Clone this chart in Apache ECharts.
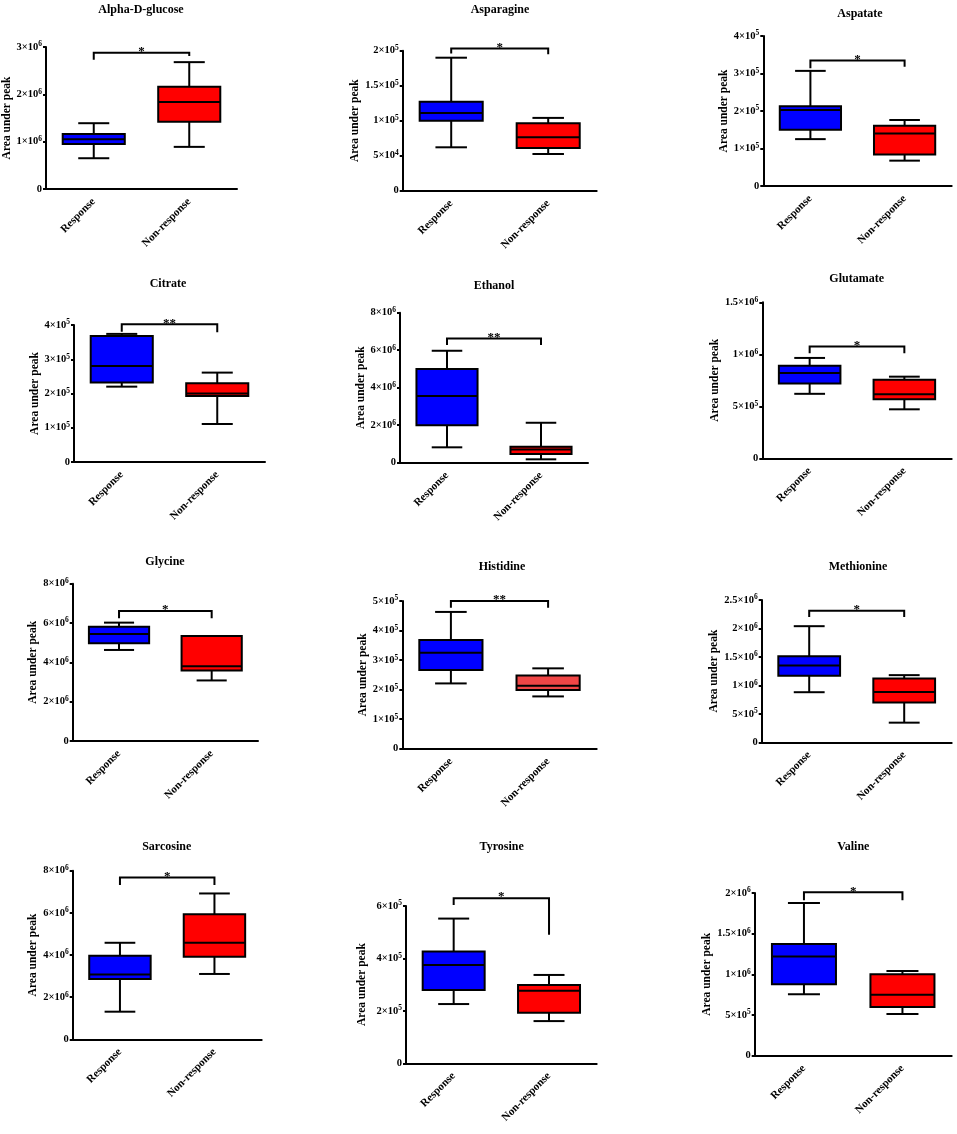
<!DOCTYPE html>
<html>
<head>
<meta charset="utf-8">
<title>Metabolites box plots</title>
<script src="https://cdn.jsdelivr.net/npm/echarts@6/dist/echarts.min.js"></script>
<style>
  html, body { margin: 0; padding: 0; background: #fff; }
  #main { width: 957px; height: 1134px; }
</style>
</head>
<body>
<div id="main"></div>
<script>
var groups = ['Response', 'Non-response'];
var metabolites = ['Alpha-D-glucose', 'Asparagine', 'Aspatate', 'Citrate', 'Ethanol', 'Glutamate',
  'Glycine', 'Histidine', 'Methionine', 'Sarcosine', 'Tyrosine', 'Valine'];

// [min, Q1, median, Q3, max]
var responseBox = [
  [0.65e6, 0.95e6, 1.05e6, 1.16e6, 1.39e6],
  [0.62e5, 1.0e5, 1.11e5, 1.27e5, 1.9e5],
  [1.25e5, 1.5e5, 2.03e5, 2.13e5, 3.07e5],
  [2.2e5, 2.32e5, 2.8e5, 3.68e5, 3.74e5],
  [0.82e6, 2.0e6, 3.56e6, 5.0e6, 5.97e6],
  [0.62e6, 0.72e6, 0.82e6, 0.89e6, 0.965e6],
  [4.63e6, 4.97e6, 5.44e6, 5.81e6, 6.02e6],
  [2.21e5, 2.66e5, 3.25e5, 3.68e5, 4.63e5],
  [0.88e6, 1.17e6, 1.35e6, 1.51e6, 2.04e6],
  [1.31e6, 2.86e6, 3.08e6, 3.97e6, 4.58e6],
  [2.26e5, 2.8e5, 3.75e5, 4.26e5, 5.52e5],
  [0.754e6, 0.877e6, 1.22e6, 1.373e6, 1.877e6]
];
var nonResponseBox = [
  [0.89e6, 1.42e6, 1.84e6, 2.16e6, 2.68e6],
  [0.524e5, 0.61e5, 0.762e5, 0.962e5, 1.04e5],
  [0.676e5, 0.84e5, 1.4e5, 1.61e5, 1.76e5],
  [1.11e5, 1.93e5, 2.0e5, 2.3e5, 2.61e5],
  [0.18e6, 0.46e6, 0.71e6, 0.85e6, 2.13e6],
  [0.471e6, 0.567e6, 0.615e6, 0.756e6, 0.785e6],
  [3.08e6, 3.58e6, 3.8e6, 5.34e6, 5.34e6],
  [1.77e5, 1.99e5, 2.13e5, 2.48e5, 2.72e5],
  [0.345e6, 0.7e6, 0.884e6, 1.12e6, 1.18e6],
  [3.1e6, 3.92e6, 4.58e6, 5.93e6, 6.92e6],
  [1.61e5, 1.93e5, 2.77e5, 2.99e5, 3.37e5],
  [0.512e6, 0.598e6, 0.75e6, 1.0e6, 1.04e6]
];

var significance = ['*', '*', '*', '**', '**', '*', '*', '**', '*', '*', '*', '*'];
// bracket: [bar height, left leg end, right leg end]
var bracket = [
  [2.88e6, 2.73e6, 2.81e6],
  [2.03e5, 1.96e5, 1.95e5],
  [3.35e5, 3.14e5, 3.18e5],
  [4.02e5, 3.8e5, 3.79e5],
  [6.63e6, 6.28e6, 6.28e6],
  [1.074e6, 1.01e6, 1.01e6],
  [6.61e6, 6.24e6, 6.24e6],
  [5.0e5, 4.77e5, 4.77e5],
  [2.31e6, 2.2e6, 2.2e6],
  [7.68e6, 7.32e6, 7.32e6],
  [6.3e5, 6.04e5, 4.9e5],
  [2.01e6, 1.91e6, 1.91e6]
];

var yMax = [3e6, 2e5, 4e5, 4e5, 8e6, 1.5e6, 8e6, 5e5, 2.5e6, 8e6, 6e5, 2e6];
var yStep = [1e6, 5e4, 1e5, 1e5, 2e6, 5e5, 2e6, 1e5, 5e5, 2e6, 2e5, 5e5];

// panel layout in px: [left, top, right, zeroLine, titleX, titleY, nameGap]
var layout = [
  [46, 47, 237, 189, 141, 11, 29],
  [402.7, 50.7, 596.7, 190.7, 500, 10.7, 31],
  [763.3, 36, 951.7, 186, 860, 15, 31],
  [74, 325, 265, 462, 168, 285, 33],
  [400, 312.7, 588, 462.7, 494, 286.7, 32],
  [762.3, 302.3, 951.7, 458.3, 856.7, 280, 39],
  [72.7, 583.7, 258, 741, 165, 563.3, 32],
  [402.3, 601, 596.7, 748.7, 502, 568.3, 33],
  [761.7, 600, 951.7, 742.3, 858, 568.3, 39],
  [72.7, 870.7, 261.7, 1039.3, 166.7, 848.3, 32],
  [406, 906, 596.7, 1063.3, 501.7, 848.3, 38],
  [754.7, 893, 951.7, 1055.7, 853.3, 848.3, 35]
];

var FONT = '"Liberation Serif", "Times New Roman", serif';
var responseColor = '#0000ff';
var nonResponseColor = ['#ff0000', '#ff0000', '#ff0000', '#ff0000', '#ff0000', '#ff0000',
  '#ff0000', '#f04646', '#ff0000', '#ff0000', '#ff0000', '#ff0000'];

function sciLabel(v) {
  if (v === 0) return '{b|0}';
  var e = Math.floor(Math.log10(v) + 1e-9);
  var m = Math.round(v / Math.pow(10, e) * 10) / 10;
  return '{b|' + m + '×10}{sup|' + e + '}';
}

function boxRenderer(i) {
  return function (params, api) {
    var cat = api.value(0);
    var band = api.size([1, 0])[0];
    var half = band * 0.325;
    var cap = half * 0.5;
    var pMin = api.coord([cat, api.value(1)]);
    var pQ1 = api.coord([cat, api.value(2)]);
    var pMed = api.coord([cat, api.value(3)]);
    var pQ3 = api.coord([cat, api.value(4)]);
    var pMax = api.coord([cat, api.value(5)]);
    var x = pMin[0];
    var line = { stroke: '#000', lineWidth: 2 };
    return {
      type: 'group',
      children: [
        { type: 'line', shape: { x1: x, y1: pMin[1], x2: x, y2: pQ1[1] }, style: line },
        { type: 'line', shape: { x1: x, y1: pQ3[1], x2: x, y2: pMax[1] }, style: line },
        { type: 'line', shape: { x1: x - cap, y1: pMin[1], x2: x + cap, y2: pMin[1] }, style: line },
        { type: 'line', shape: { x1: x - cap, y1: pMax[1], x2: x + cap, y2: pMax[1] }, style: line },
        {
          type: 'rect',
          shape: { x: x - half, y: pQ3[1], width: half * 2, height: pQ1[1] - pQ3[1] },
          style: { fill: cat === 0 ? responseColor : nonResponseColor[i], stroke: '#000', lineWidth: 2 }
        },
        { type: 'line', shape: { x1: x - half, y1: pMed[1], x2: x + half, y2: pMed[1] }, style: line }
      ]
    };
  };
}

function bracketRenderer(i) {
  return function (params, api) {
    var top0 = api.coord([0, api.value(1)]);
    var top1 = api.coord([1, api.value(1)]);
    var left = api.coord([0, api.value(2)]);
    var right = api.coord([1, api.value(3)]);
    return {
      type: 'group',
      children: [
        {
          type: 'polyline',
          shape: { points: [left, top0, top1, right] },
          style: { stroke: '#000', lineWidth: 2, fill: null }
        },
        {
          type: 'text',
          x: (top0[0] + top1[0]) / 2,
          y: top0[1] - 1,
          style: {
            text: significance[i], align: 'center', verticalAlign: 'middle',
            fontSize: 13, fontWeight: 'bold', fontFamily: FONT, fill: '#000'
          }
        }
      ]
    };
  };
}

var titles = [], grids = [], xAxes = [], yAxes = [], series = [];

for (var i = 0; i < metabolites.length; i++) {
  var L = layout[i];
  titles.push({
    text: metabolites[i],
    left: L[4], top: L[5] - 7,
    textAlign: 'center', padding: 0,
    textStyle: { fontSize: 12, fontWeight: 'bold', fontFamily: FONT, color: '#000' }
  });
  grids.push({
    left: L[0], top: L[1], width: L[2] - L[0], height: L[3] - L[1],
    containLabel: false, outerBoundsMode: 'none'
  });
  xAxes.push({
    type: 'category', gridIndex: i, data: groups,
    axisLine: { lineStyle: { color: '#000', width: 2 } },
    axisTick: { alignWithLabel: true, length: 4, lineStyle: { color: '#000', width: 2 } },
    axisLabel: {
      rotate: 45, interval: 0, margin: 11, color: '#000',
      fontSize: 11, fontWeight: 'bold', fontFamily: FONT
    },
    splitLine: { show: false }
  });
  yAxes.push({
    type: 'value', gridIndex: i, min: 0, max: yMax[i], interval: yStep[i],
    name: 'Area under peak', nameLocation: 'middle', nameRotate: 90, nameGap: L[6],
    nameTextStyle: { fontSize: 11.5, fontWeight: 'bold', fontFamily: FONT, color: '#000' },
    axisLine: { show: true, lineStyle: { color: '#000', width: 2 } },
    axisTick: { show: true, length: 3, lineStyle: { color: '#000', width: 2 } },
    splitLine: { show: false },
    axisLabel: {
      margin: 4,
      formatter: sciLabel,
      rich: {
        b: { fontSize: 10.5, fontWeight: 'bold', fontFamily: FONT, color: '#000', lineHeight: 13 },
        sup: { fontSize: 7.5, fontWeight: 'bold', fontFamily: FONT, color: '#000', lineHeight: 8, verticalAlign: 'top' }
      }
    }
  });
  series.push({
    type: 'custom', name: metabolites[i],
    xAxisIndex: i, yAxisIndex: i,
    encode: { x: 0, y: [1, 2, 3, 4, 5] },
    data: [[0].concat(responseBox[i]), [1].concat(nonResponseBox[i])],
    renderItem: boxRenderer(i),
    clip: false, silent: true
  });
  series.push({
    type: 'custom', name: metabolites[i] + ' significance',
    xAxisIndex: i, yAxisIndex: i,
    encode: { x: 0, y: [1, 2, 3] },
    data: [[0].concat(bracket[i])],
    renderItem: bracketRenderer(i),
    clip: false, silent: true
  });
}

var chart = echarts.init(document.getElementById('main'), null, { renderer: 'canvas' });
var option = {
  backgroundColor: '#ffffff',
  animation: false,
  title: titles,
  grid: grids,
  xAxis: xAxes,
  yAxis: yAxes,
  series: series
};
chart.setOption(option);
</script>
</body>
</html>
